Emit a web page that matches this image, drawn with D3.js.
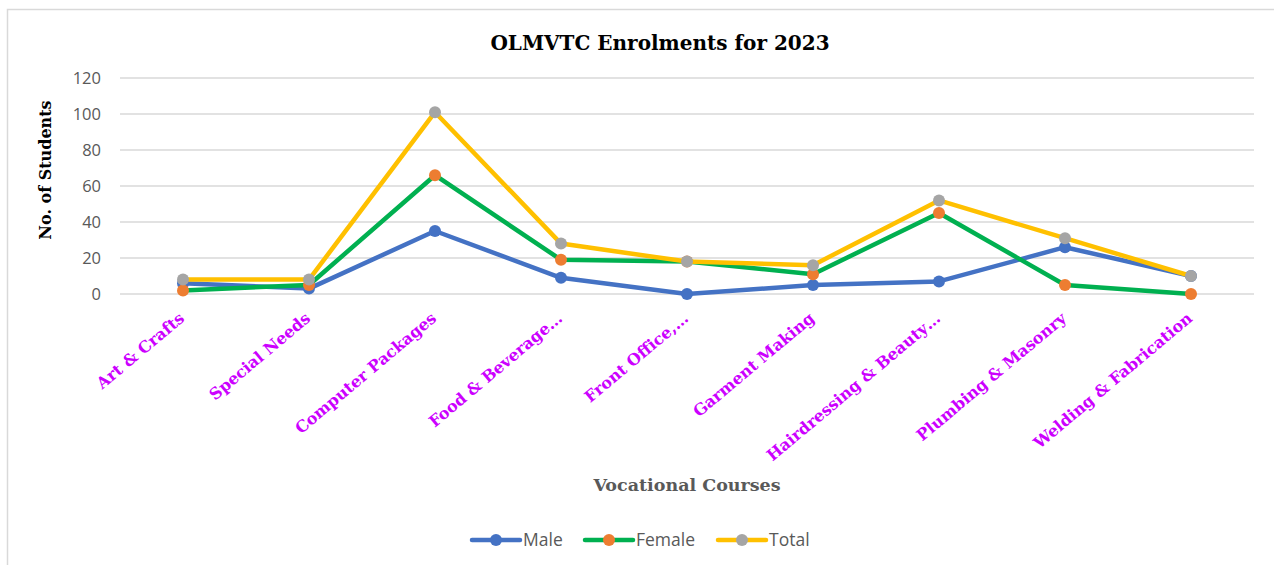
<!DOCTYPE html>
<html>
<head>
<meta charset="utf-8">
<script src="https://cdn.jsdelivr.net/npm/d3@7"></script>
<style>
  html, body { margin: 0; padding: 0; background: #fff; }
  svg { display: block; }
</style>
</head>
<body>
<svg id="chart" width="1274" height="565"></svg>
<script>
const categories = ["Art & Crafts", "Special Needs", "Computer Packages", "Food & Beverage…", "Front Office,…", "Garment Making", "Hairdressing & Beauty…", "Plumbing & Masonry", "Welding & Fabrication"];
const male   = [6, 3, 35, 9, 0, 5, 7, 26, 10];
const female = [2, 5, 66, 19, 18, 11, 45, 5, 0];
const total  = [8, 8, 101, 28, 18, 16, 52, 31, 10];
const yTicks = [0, 20, 40, 60, 80, 100, 120];
const seriesNames = ["Male", "Female", "Total"];

const series = [
  { name: seriesNames[0], values: male,   line: "#4472C4", marker: "#4472C4" },
  { name: seriesNames[1], values: female, line: "#00B050", marker: "#ED7D31" },
  { name: seriesNames[2], values: total,  line: "#FFC000", marker: "#A5A5A5" }
];

const svg = d3.select("#chart");
const serif = "'DejaVu Serif', 'Liberation Serif', serif";
const sans = "'Open Sans', 'Noto Sans', 'DejaVu Sans', sans-serif";

// border (top and left visible)
svg.append("path").attr("d", "M7.5,565 V9.5 H1274").attr("fill", "none").attr("stroke", "#d9d9d9").attr("stroke-width", 1.5);

const x = d3.scalePoint().domain(categories).range([183, 1191]);
const y = d3.scaleLinear().domain([0, 120]).range([294, 78]);

// gridlines
svg.append("g").selectAll("line").data(yTicks).join("line")
  .attr("x1", 120).attr("x2", 1254)
  .attr("y1", d => y(d)).attr("y2", d => y(d))
  .attr("stroke", "#d9d9d9").attr("stroke-width", 1.5);

// y axis labels
const yAxis = d3.axisLeft(y).tickValues(yTicks).tickSize(0).tickPadding(0);
const ya = svg.append("g").attr("transform", "translate(101,0)").call(yAxis);
ya.select(".domain").remove();
ya.selectAll("text").attr("font-family", sans).attr("font-size", 16.5).attr("fill", "#595959").attr("dy", "0.35em");

// x axis labels
const xAxis = d3.axisBottom(x).tickSize(0).tickPadding(0);
const xa = svg.append("g").attr("transform", "translate(0,294)").call(xAxis);
xa.select(".domain").remove();
xa.selectAll("text")
  .attr("font-family", serif).attr("font-weight", "bold").attr("font-size", 16)
  .attr("fill", "#CC00FF")
  .attr("text-anchor", "end")
  .attr("y", 0).attr("dy", 0)
  .attr("transform", "translate(2,26) rotate(-40)");

// lines
const line = d3.line().x((d, i) => x(categories[i])).y(d => y(d));
series.forEach(s => {
  svg.append("path").datum(s.values).attr("d", line)
    .attr("fill", "none").attr("stroke", s.line).attr("stroke-width", 4.5)
    .attr("stroke-linejoin", "round").attr("stroke-linecap", "round");
  svg.append("g").selectAll("circle").data(s.values).join("circle")
    .attr("cx", (d, i) => x(categories[i])).attr("cy", d => y(d))
    .attr("r", 6).attr("fill", s.marker);
});

// title
svg.append("text").attr("x", 660).attr("y", 50).attr("text-anchor", "middle")
  .attr("font-family", serif).attr("font-weight", "bold").attr("font-size", 20)
  .attr("fill", "#000").text("OLMVTC Enrolments for 2023");

// y title
svg.append("text").attr("transform", "translate(51,170) rotate(-90)").attr("text-anchor", "middle")
  .attr("font-family", serif).attr("font-weight", "bold").attr("font-size", 16)
  .attr("fill", "#000").text("No. of Students");

// x title
svg.append("text").attr("x", 687).attr("y", 491).attr("text-anchor", "middle")
  .attr("font-family", serif).attr("font-weight", "bold").attr("font-size", 17.5)
  .attr("fill", "#595959").text("Vocational Courses");

// legend
const legendX = [472, 585, 718];
series.forEach((s, i) => {
  const g = svg.append("g").attr("transform", `translate(${legendX[i]},540)`);
  g.append("line").attr("x1", 0).attr("x2", 48).attr("y1", 0).attr("y2", 0)
    .attr("stroke", s.line).attr("stroke-width", 4.5).attr("stroke-linecap", "round");
  g.append("circle").attr("cx", 24).attr("cy", 0).attr("r", 6).attr("fill", s.marker);
  g.append("text").attr("x", 51).attr("y", 0).attr("dy", "0.35em")
    .attr("font-family", sans).attr("font-size", 17.5).attr("fill", "#595959").text(s.name);
});
</script>
</body>
</html>
